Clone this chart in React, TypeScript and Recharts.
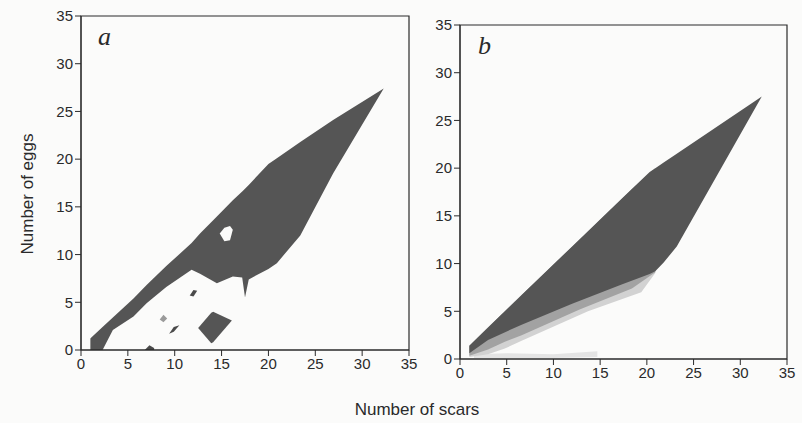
import React from 'react';
import { ComposedChart, Area, XAxis, YAxis, ReferenceArea } from 'recharts';

// axis ticks (both panels)
const ticks = [0, 5, 10, 15, 20, 25, 30, 35];

// panel a: main shaded region (x, lower, upper)
const aMainX = [1.0, 1.1, 2.3, 3.4, 5.6, 7.0, 9.1, 11.8, 12.7, 14.5, 16.2, 17.2, 17.5, 17.9, 20.0, 20.9, 23.4, 26.9, 32.3];
const aMainLow = [0, 0, 0, 2.1, 3.5, 4.9, 6.6, 8.4, 8.0, 7.0, 7.7, 7.6, 5.5, 7.4, 8.5, 9.1, 12.0, 18.5, 27.4];
const aMainHigh = [1.2, 1.3, 2.4, 3.4, 5.4, 6.8, 8.8, 11.2, 12.2, 14.0, 15.7, 16.6, 16.9, 17.3, 19.5, 20.1, 21.8, 24.1, 27.4];

// panel a: white hole inside the region
const aHoleX = [14.8, 15.3, 15.9, 16.2];
const aHoleLow = [12.2, 11.4, 11.5, 12.6];
const aHoleHigh = [12.2, 12.8, 13.0, 12.6];

// panel a: isolated patches
const aDiamondX = [12.5, 13.9, 14.1, 16.1];
const aDiamondLow = [2.3, 0.7, 0.8, 3.1];
const aDiamondHigh = [2.3, 3.9, 4.0, 3.1];
const aSpotX = [11.6, 12.0, 12.4];
const aSpotLow = [5.7, 5.6, 6.2];
const aSpotHigh = [5.7, 6.3, 6.2];
const aDashX = [9.4, 9.9, 10.5];
const aDashLow = [1.7, 1.9, 2.6];
const aDashHigh = [1.7, 2.4, 2.6];
const aDotX = [6.8, 7.3, 7.8];
const aDotLow = [0, 0, 0];
const aDotHigh = [0, 0.5, 0.2];
const aFleckX = [8.4, 8.8, 9.2];
const aFleckLow = [3.2, 2.9, 3.3];
const aFleckHigh = [3.2, 3.7, 3.3];

// panel b: faint band along the x axis
const bBaseX = [1.5, 5.0, 10.0, 14.7];
const bBaseLow = [0.1, 0.1, 0.1, 0.2];
const bBaseHigh = [0.5, 0.6, 0.5, 0.8];

// panel b: fading edge (light and mid grey)
const bFadeX = [1.0, 3.0, 4.8, 6.6, 13.7, 19.4, 20.9];
const bFadeLow = [0.2, 0.5, 1.1, 1.9, 5.0, 7.0, 9.0];
const bFadeHigh = [1.4, 3.3, 5.0, 6.7, 13.3, 18.7, 20.0];
const bMidX = [1.0, 3.0, 4.8, 6.6, 12.8, 18.4, 20.9];
const bMidLow = [0.35, 1.0, 1.8, 2.5, 5.2, 7.4, 9.1];
const bMidHigh = [1.4, 3.3, 5.0, 6.7, 12.5, 17.8, 20.0];

// panel b: dark core
const bDarkX = [1.0, 3.0, 6.6, 12.0, 17.3, 20.3, 20.9, 21.8, 23.2, 32.3];
const bDarkLow = [0.6, 2.0, 3.6, 5.8, 7.8, 8.9, 9.2, 10.1, 11.8, 27.5];
const bDarkHigh = [1.4, 3.3, 6.7, 11.8, 16.8, 19.6, 20.0, 20.6, 21.5, 27.5];

const toRows = (xs: number[], lo: number[], hi: number[]) =>
  xs.map((x, i) => ({ x, r: [lo[i], hi[i]] }));

const font = '"Liberation Sans", Arial, sans-serif';
const ink = '#2a2a2a';
const paper = '#fbfbfa';
const dark = '#555555';
const tickStyle = { fill: ink, fontSize: 15, fontFamily: font };

const Panel = ({ width, height, margin, yWidth, children }: any) => (
  <ComposedChart width={width} height={height} margin={margin}>
    <XAxis
      type="number"
      dataKey="x"
      domain={[0, 35]}
      ticks={ticks}
      interval={0}
      height={30}
      tickSize={6}
      stroke={ink}
      tick={tickStyle}
      allowDataOverflow
    />
    <YAxis
      type="number"
      domain={[0, 35]}
      ticks={ticks}
      interval={0}
      width={yWidth}
      tickSize={6}
      stroke={ink}
      tick={tickStyle}
      allowDataOverflow
    />
    {children}
    <ReferenceArea x1={0} x2={35} y1={0} y2={35} fill="none" stroke={ink} strokeWidth={1.2} />
  </ComposedChart>
);

const shape = (xs: number[], lo: number[], hi: number[], fill: string) => (
  <Area
    data={toRows(xs, lo, hi)}
    dataKey="r"
    type="linear"
    stroke="none"
    fill={fill}
    fillOpacity={1}
    isAnimationActive={false}
    dot={false}
    activeDot={false}
  />
);

export default function App() {
  return (
    <div style={{ position: 'absolute', left: 0, top: 0, width: 802, height: 423, background: paper, fontFamily: font, overflow: 'hidden' }}>
      <div style={{ position: 'absolute', left: 0, top: 0 }}>
        <Panel width={430} height={390} margin={{ top: 16, right: 21, bottom: 10, left: 0 }} yWidth={81}>
          {shape(aMainX, aMainLow, aMainHigh, dark)}
          {shape(aHoleX, aHoleLow, aHoleHigh, paper)}
          {shape(aDiamondX, aDiamondLow, aDiamondHigh, dark)}
          {shape(aSpotX, aSpotLow, aSpotHigh, '#4a4a4a')}
          {shape(aDashX, aDashLow, aDashHigh, '#4a4a4a')}
          {shape(aDotX, aDotLow, aDotHigh, '#4a4a4a')}
          {shape(aFleckX, aFleckLow, aFleckHigh, '#9a9a9a')}
        </Panel>
      </div>

      <div style={{ position: 'absolute', left: 400, top: 0 }}>
        <Panel width={402} height={399} margin={{ top: 25, right: 15, bottom: 10, left: 0 }} yWidth={60}>
          {shape(bBaseX, bBaseLow, bBaseHigh, '#e4e4e4')}
          {shape(bFadeX, bFadeLow, bFadeHigh, '#d2d2d2')}
          {shape(bMidX, bMidLow, bMidHigh, '#a2a2a2')}
          {shape(bDarkX, bDarkLow, bDarkHigh, dark)}
        </Panel>
      </div>

      <div style={{ position: 'absolute', left: 98, top: 22, fontFamily: '"Liberation Serif", serif', fontStyle: 'italic', fontSize: 26, color: ink }}>a</div>
      <div style={{ position: 'absolute', left: 478, top: 31, fontFamily: '"Liberation Serif", serif', fontStyle: 'italic', fontSize: 26, color: ink }}>b</div>

      <div
        style={{
          position: 'absolute',
          left: 28,
          top: 194,
          transform: 'translate(-50%, -50%) rotate(-90deg)',
          whiteSpace: 'nowrap',
          fontSize: 17,
          color: ink,
        }}
      >
        Number of eggs
      </div>
      <div
        style={{
          position: 'absolute',
          left: 417,
          top: 410,
          transform: 'translate(-50%, -50%)',
          whiteSpace: 'nowrap',
          fontSize: 17,
          color: ink,
        }}
      >
        Number of scars
      </div>
    </div>
  );
}
